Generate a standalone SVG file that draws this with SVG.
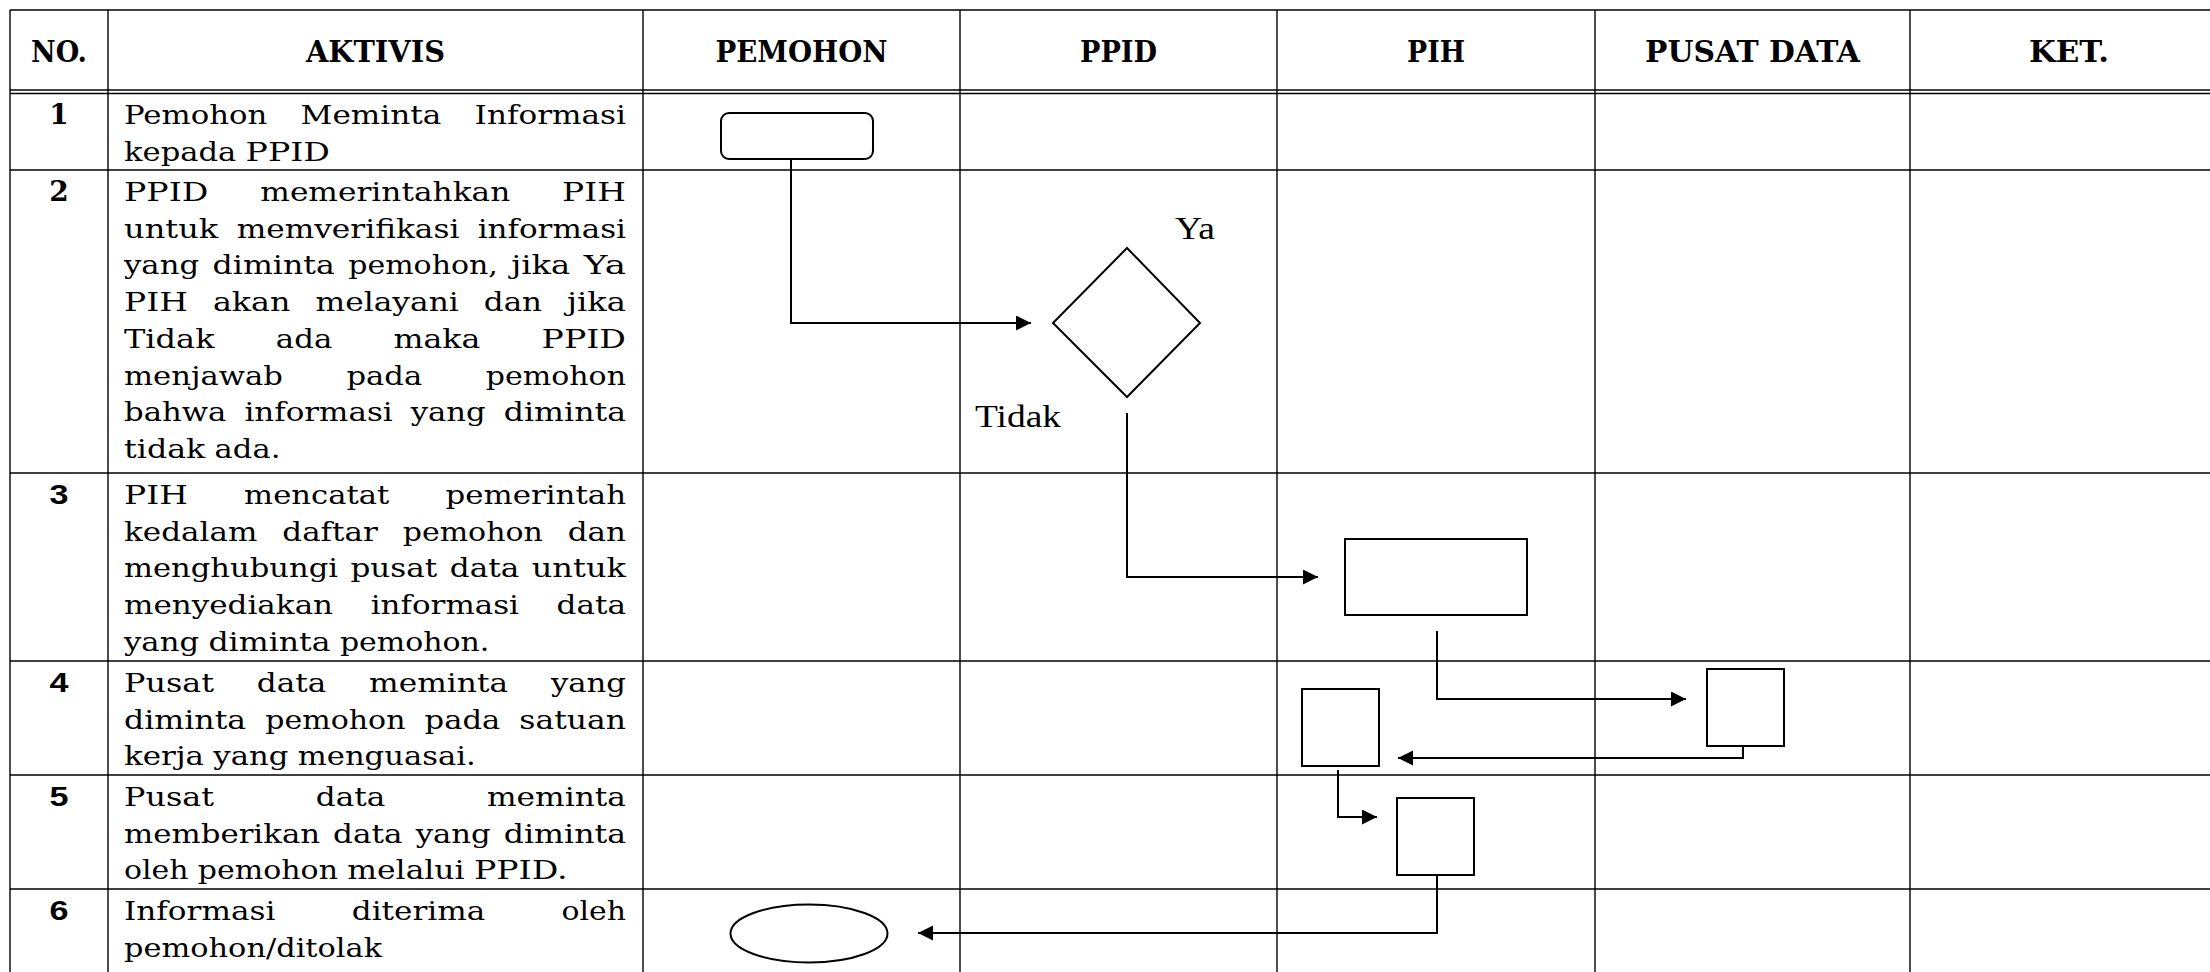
<svg xmlns="http://www.w3.org/2000/svg" width="2210" height="972" viewBox="0 0 2210 972">
<style>
.grid{stroke:#000;stroke-width:1.4;fill:none}
.hd{font-family:"DejaVu Serif","Liberation Serif",serif;font-weight:bold;font-size:29px;text-anchor:middle;fill:#000}
.tx{font-family:"DejaVu Serif","Liberation Serif",serif;font-size:26.5px;fill:#000}
.nums{font-family:"DejaVu Serif","Liberation Serif",serif;font-weight:bold;font-size:28px;text-anchor:middle;fill:#000}
.numa{font-family:"Liberation Sans",Arial,sans-serif;font-weight:bold;font-size:28px;text-anchor:middle;fill:#000}
.lbl{font-family:"Liberation Serif","Times New Roman",serif;font-size:32px;fill:#000}
.shape{fill:#fff;stroke:#000;stroke-width:2}
.conn{fill:none;stroke:#000;stroke-width:2}
</style>
<defs>
<marker id="arrow" markerWidth="16" markerHeight="16" refX="15" refY="7.5" orient="auto" markerUnits="userSpaceOnUse">
<path d="M0,0 L15,7.5 L0,15 z" fill="#000"/>
</marker>
</defs>
<rect width="2210" height="972" fill="#fff"/>

<g id="table" class="grid">
<line x1="10" y1="10" x2="2210" y2="10"/>
<line x1="10" y1="90" x2="2210" y2="90"/>
<line x1="10" y1="93.5" x2="2210" y2="93.5"/>
<line x1="10" y1="170" x2="2210" y2="170"/>
<line x1="10" y1="473" x2="2210" y2="473"/>
<line x1="10" y1="661" x2="2210" y2="661"/>
<line x1="10" y1="775" x2="2210" y2="775"/>
<line x1="10" y1="889" x2="2210" y2="889"/>
<line x1="10" y1="10" x2="10" y2="972"/>
<line x1="108" y1="10" x2="108" y2="972"/>
<line x1="643" y1="10" x2="643" y2="972"/>
<line x1="960" y1="10" x2="960" y2="972"/>
<line x1="1277" y1="10" x2="1277" y2="972"/>
<line x1="1595" y1="10" x2="1595" y2="972"/>
<line x1="1910" y1="10" x2="1910" y2="972"/>
</g>

<g id="headers">
<text class="hd" x="59" y="62" textLength="56" lengthAdjust="spacingAndGlyphs">NO.</text>
<text class="hd" x="375.5" y="62" textLength="139" lengthAdjust="spacingAndGlyphs">AKTIVIS</text>
<text class="hd" x="801.5" y="62" textLength="172" lengthAdjust="spacingAndGlyphs">PEMOHON</text>
<text class="hd" x="1118.5" y="62" textLength="77" lengthAdjust="spacingAndGlyphs">PPID</text>
<text class="hd" x="1436" y="62" textLength="58" lengthAdjust="spacingAndGlyphs">PIH</text>
<text class="hd" x="1752.5" y="62" textLength="215" lengthAdjust="spacingAndGlyphs">PUSAT DATA</text>
<text class="hd" x="2069" y="62" textLength="80" lengthAdjust="spacingAndGlyphs">KET.</text>
</g>

<g id="numbers">
<text class="nums" x="59" y="124">1</text>
<text class="nums" x="59" y="201">2</text>
<text class="numa" x="59" y="504" textLength="19" lengthAdjust="spacingAndGlyphs">3</text>
<text class="numa" x="59" y="692" textLength="19" lengthAdjust="spacingAndGlyphs">4</text>
<text class="numa" x="59" y="806" textLength="19" lengthAdjust="spacingAndGlyphs">5</text>
<text class="numa" x="59" y="920" textLength="19" lengthAdjust="spacingAndGlyphs">6</text>
</g>

<g id="aktivis" class="tx">
<text y="124"><tspan x="124" textLength="143.3" lengthAdjust="spacingAndGlyphs">Pemohon</tspan> <tspan x="300.6" textLength="140.8" lengthAdjust="spacingAndGlyphs">Meminta</tspan> <tspan x="474.6" textLength="151.4" lengthAdjust="spacingAndGlyphs">Informasi</tspan></text>
<text y="160.7"><tspan x="124" textLength="112.3" lengthAdjust="spacingAndGlyphs">kepada</tspan> <tspan x="245.6" textLength="84.4" lengthAdjust="spacingAndGlyphs">PPID</tspan></text>

<text y="201"><tspan x="124" textLength="84.4" lengthAdjust="spacingAndGlyphs">PPID</tspan> <tspan x="260.3" textLength="250" lengthAdjust="spacingAndGlyphs">memerintahkan</tspan> <tspan x="562.1" textLength="63.9" lengthAdjust="spacingAndGlyphs">PIH</tspan></text>
<text y="237.7"><tspan x="124" textLength="94.3" lengthAdjust="spacingAndGlyphs">untuk</tspan> <tspan x="236.7" textLength="222.7" lengthAdjust="spacingAndGlyphs">memverifikasi</tspan> <tspan x="477.7" textLength="148.3" lengthAdjust="spacingAndGlyphs">informasi</tspan></text>
<text y="274.4"><tspan x="124" textLength="75.1" lengthAdjust="spacingAndGlyphs">yang</tspan> <tspan x="212.6" textLength="122.2" lengthAdjust="spacingAndGlyphs">diminta</tspan> <tspan x="348.3" textLength="149.5" lengthAdjust="spacingAndGlyphs">pemohon,</tspan> <tspan x="511.3" textLength="59" lengthAdjust="spacingAndGlyphs">jika</tspan> <tspan x="583.8" textLength="42.2" lengthAdjust="spacingAndGlyphs">Ya</tspan></text>
<text y="311.1"><tspan x="124" textLength="63.9" lengthAdjust="spacingAndGlyphs">PIH</tspan> <tspan x="212.9" textLength="77.6" lengthAdjust="spacingAndGlyphs">akan</tspan> <tspan x="315.5" textLength="143.3" lengthAdjust="spacingAndGlyphs">melayani</tspan> <tspan x="483.8" textLength="58.3" lengthAdjust="spacingAndGlyphs">dan</tspan> <tspan x="567" textLength="59" lengthAdjust="spacingAndGlyphs">jika</tspan></text>
<text y="347.8"><tspan x="124" textLength="90.6" lengthAdjust="spacingAndGlyphs">Tidak</tspan> <tspan x="275.8" textLength="56.5" lengthAdjust="spacingAndGlyphs">ada</tspan> <tspan x="393.5" textLength="86.9" lengthAdjust="spacingAndGlyphs">maka</tspan> <tspan x="541.6" textLength="84.4" lengthAdjust="spacingAndGlyphs">PPID</tspan></text>
<text y="384.5"><tspan x="124" textLength="158.9" lengthAdjust="spacingAndGlyphs">menjawab</tspan> <tspan x="346.5" textLength="75.7" lengthAdjust="spacingAndGlyphs">pada</tspan> <tspan x="485.8" textLength="140.2" lengthAdjust="spacingAndGlyphs">pemohon</tspan></text>
<text y="421.2"><tspan x="124" textLength="102.4" lengthAdjust="spacingAndGlyphs">bahwa</tspan> <tspan x="244.4" textLength="148.3" lengthAdjust="spacingAndGlyphs">informasi</tspan> <tspan x="410.7" textLength="75.1" lengthAdjust="spacingAndGlyphs">yang</tspan> <tspan x="503.8" textLength="122.2" lengthAdjust="spacingAndGlyphs">diminta</tspan></text>
<text y="457.9"><tspan x="124" textLength="81.3" lengthAdjust="spacingAndGlyphs">tidak</tspan> <tspan x="214.6" textLength="65.8" lengthAdjust="spacingAndGlyphs">ada.</tspan></text>

<text y="504"><tspan x="124" textLength="63.9" lengthAdjust="spacingAndGlyphs">PIH</tspan> <tspan x="244.1" textLength="145.2" lengthAdjust="spacingAndGlyphs">mencatat</tspan> <tspan x="445.5" textLength="180.5" lengthAdjust="spacingAndGlyphs">pemerintah</tspan></text>
<text y="540.7"><tspan x="124" textLength="133.4" lengthAdjust="spacingAndGlyphs">kedalam</tspan> <tspan x="282.3" textLength="95.5" lengthAdjust="spacingAndGlyphs">daftar</tspan> <tspan x="402.7" textLength="140.2" lengthAdjust="spacingAndGlyphs">pemohon</tspan> <tspan x="567.7" textLength="58.3" lengthAdjust="spacingAndGlyphs">dan</tspan></text>
<text y="577.4"><tspan x="124" textLength="214" lengthAdjust="spacingAndGlyphs">menghubungi</tspan> <tspan x="350.4" textLength="86.9" lengthAdjust="spacingAndGlyphs">pusat</tspan> <tspan x="449.8" textLength="69.5" lengthAdjust="spacingAndGlyphs">data</tspan> <tspan x="531.7" textLength="94.3" lengthAdjust="spacingAndGlyphs">untuk</tspan></text>
<text y="614.1"><tspan x="124" textLength="209.1" lengthAdjust="spacingAndGlyphs">menyediakan</tspan> <tspan x="370.7" textLength="148.3" lengthAdjust="spacingAndGlyphs">informasi</tspan> <tspan x="556.5" textLength="69.5" lengthAdjust="spacingAndGlyphs">data</tspan></text>
<text y="650.8"><tspan x="124" textLength="75.1" lengthAdjust="spacingAndGlyphs">yang</tspan> <tspan x="208.4" textLength="122.2" lengthAdjust="spacingAndGlyphs">diminta</tspan> <tspan x="339.9" textLength="149.5" lengthAdjust="spacingAndGlyphs">pemohon.</tspan></text>

<text y="692"><tspan x="124" textLength="90" lengthAdjust="spacingAndGlyphs">Pusat</tspan> <tspan x="256.8" textLength="69.5" lengthAdjust="spacingAndGlyphs">data</tspan> <tspan x="369.1" textLength="139" lengthAdjust="spacingAndGlyphs">meminta</tspan> <tspan x="550.9" textLength="75.1" lengthAdjust="spacingAndGlyphs">yang</tspan></text>
<text y="728.7"><tspan x="124" textLength="122.2" lengthAdjust="spacingAndGlyphs">diminta</tspan> <tspan x="265.3" textLength="140.2" lengthAdjust="spacingAndGlyphs">pemohon</tspan> <tspan x="424.6" textLength="75.7" lengthAdjust="spacingAndGlyphs">pada</tspan> <tspan x="519.3" textLength="106.7" lengthAdjust="spacingAndGlyphs">satuan</tspan></text>
<text y="765.4"><tspan x="124" textLength="80" lengthAdjust="spacingAndGlyphs">kerja</tspan> <tspan x="213.3" textLength="75.1" lengthAdjust="spacingAndGlyphs">yang</tspan> <tspan x="297.7" textLength="178.1" lengthAdjust="spacingAndGlyphs">menguasai.</tspan></text>

<text y="806"><tspan x="124" textLength="90" lengthAdjust="spacingAndGlyphs">Pusat</tspan> <tspan x="315.8" textLength="69.5" lengthAdjust="spacingAndGlyphs">data</tspan> <tspan x="487" textLength="139" lengthAdjust="spacingAndGlyphs">meminta</tspan></text>
<text y="842.7"><tspan x="124" textLength="196.1" lengthAdjust="spacingAndGlyphs">memberikan</tspan> <tspan x="333.1" textLength="69.5" lengthAdjust="spacingAndGlyphs">data</tspan> <tspan x="415.7" textLength="75.1" lengthAdjust="spacingAndGlyphs">yang</tspan> <tspan x="503.8" textLength="122.2" lengthAdjust="spacingAndGlyphs">diminta</tspan></text>
<text y="879.4"><tspan x="124" textLength="64.5" lengthAdjust="spacingAndGlyphs">oleh</tspan> <tspan x="197.8" textLength="140.2" lengthAdjust="spacingAndGlyphs">pemohon</tspan> <tspan x="347.3" textLength="117.3" lengthAdjust="spacingAndGlyphs">melalui</tspan> <tspan x="473.9" textLength="93.7" lengthAdjust="spacingAndGlyphs">PPID.</tspan></text>

<text y="920"><tspan x="124" textLength="151.4" lengthAdjust="spacingAndGlyphs">Informasi</tspan> <tspan x="351.8" textLength="133.4" lengthAdjust="spacingAndGlyphs">diterima</tspan> <tspan x="561.5" textLength="64.5" lengthAdjust="spacingAndGlyphs">oleh</tspan></text>
<text y="956.7"><tspan x="124" textLength="258.1" lengthAdjust="spacingAndGlyphs">pemohon/ditolak</tspan></text>
</g>

<g id="connectors">
<path class="conn" d="M791,159 V323 H1031" marker-end="url(#arrow)"/>
<path class="conn" d="M1127,413 V577 H1318" marker-end="url(#arrow)"/>
<path class="conn" d="M1437,631 V699 H1686" marker-end="url(#arrow)"/>
<path class="conn" d="M1743,746 V758 H1398" marker-end="url(#arrow)"/>
<path class="conn" d="M1338,770 V817 H1377" marker-end="url(#arrow)"/>
<path class="conn" d="M1437,875 V933 H918" marker-end="url(#arrow)"/>
</g>

<g id="n1-start">
<rect class="shape" x="721" y="113" width="152" height="46" rx="8" ry="8" stroke-width="2.4"/>
</g>
<g id="n2-decision">
<polygon class="shape" points="1127,248 1200,323 1127,397 1053,323" stroke-width="1.4"/>
<text class="lbl" x="1175" y="239" textLength="40" lengthAdjust="spacingAndGlyphs">Ya</text>
<text class="lbl" x="975" y="427" textLength="86" lengthAdjust="spacingAndGlyphs">Tidak</text>
</g>
<g id="n3-pih-record">
<rect class="shape" x="1345" y="539" width="182" height="76"/>
</g>
<g id="n4-pusat-data">
<rect class="shape" x="1707" y="669" width="77" height="77"/>
</g>
<g id="n5-pih-receive">
<rect class="shape" x="1302" y="689" width="77" height="77"/>
</g>
<g id="n6-pih-send">
<rect class="shape" x="1397" y="798" width="77" height="77"/>
</g>
<g id="n7-end">
<ellipse class="shape" cx="809" cy="933.5" rx="78.5" ry="29" stroke-width="1.8"/>
</g>
</svg>
